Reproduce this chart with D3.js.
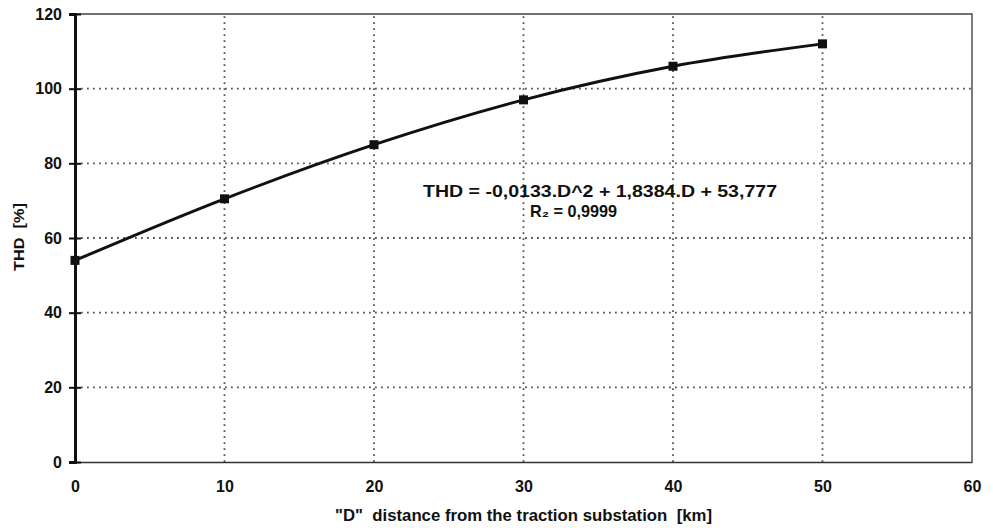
<!DOCTYPE html>
<html>
<head>
<meta charset="utf-8">
<script src="https://cdn.jsdelivr.net/npm/d3@7/dist/d3.min.js"></script>
<style>
  body { margin: 0; background: #fff; }
  svg text { font-family: "Liberation Sans", Arial, sans-serif; font-weight: bold; fill: #111; }
</style>
</head>
<body>
<div id="chart"></div>
<script>
// Data
const distance = [0, 10, 20, 30, 40, 50];
const thd = [54, 70.5, 85, 97, 106, 112];
const xTicks = [0, 10, 20, 30, 40, 50, 60];
const yTicks = [0, 20, 40, 60, 80, 100, 120];
const equationLines = ["THD = -0,0133.D^2 + 1,8384.D + 53,777", "R\u2082 = 0,9999"];

const width = 993, height = 528;
const margin = {top: 14, right: 21, bottom: 66, left: 75};

const svg = d3.select("#chart")
    .append("svg")
    .attr("width", width)
    .attr("height", height);

const x = d3.scaleLinear().domain([0, 60]).range([margin.left, width - margin.right]);
const y = d3.scaleLinear().domain([0, 120]).range([height - margin.bottom, margin.top]);

// Grid lines (dotted)
svg.append("g")
    .selectAll("line")
    .data(xTicks.slice(1, -1))
    .enter()
    .append("line")
    .attr("x1", d => x(d)).attr("x2", d => x(d))
    .attr("y1", y(0)).attr("y2", y(120))
    .attr("stroke", "#555")
    .attr("stroke-width", 1.8)
    .attr("stroke-dasharray", "1.8,4.2");

svg.append("g")
    .selectAll("line")
    .data(yTicks.slice(1, -1))
    .enter()
    .append("line")
    .attr("x1", x(0)).attr("x2", x(60))
    .attr("y1", d => y(d)).attr("y2", d => y(d))
    .attr("stroke", "#555")
    .attr("stroke-width", 1.8)
    .attr("stroke-dasharray", "1.8,4.2");

// Plot frame: top and right
svg.append("path")
    .attr("d", `M${x(0)},${y(120)}H${x(60)}V${y(0)}`)
    .attr("fill", "none")
    .attr("stroke", "#444")
    .attr("stroke-width", 1.4);

// X axis
const xAxis = svg.append("g")
    .attr("transform", `translate(0,${y(0)})`)
    .call(d3.axisBottom(x).tickValues(xTicks).tickSize(0).tickPadding(19));
xAxis.select(".domain").attr("stroke", "#333").attr("stroke-width", 1.6);
xAxis.selectAll("text").style("font-size", "16px");

// Y axis
const yAxis = svg.append("g")
    .attr("transform", `translate(${x(0)},0)`)
    .call(d3.axisLeft(y).tickValues(yTicks).tickSize(6).tickPadding(7));
yAxis.select(".domain").attr("stroke", "#111").attr("stroke-width", 3);
yAxis.selectAll(".tick line").attr("x2", -6).attr("x1", 6).attr("stroke", "#111").attr("stroke-width", 2);
yAxis.selectAll("text").style("font-size", "16px");

// Data line
const points = distance.map((d, i) => ({d: d, v: thd[i]}));
svg.append("path")
    .datum(points)
    .attr("fill", "none")
    .attr("stroke", "#111")
    .attr("stroke-width", 3)
    .attr("d", d3.line().x(p => x(p.d)).y(p => y(p.v)).curve(d3.curveMonotoneX));

// Square markers
svg.append("g")
    .selectAll("rect")
    .data(points)
    .enter()
    .append("rect")
    .attr("x", p => x(p.d) - 4.5)
    .attr("y", p => y(p.v) - 4.5)
    .attr("width", 9)
    .attr("height", 9)
    .attr("fill", "#111");

// Trendline equation
svg.append("text")
    .attr("x", 423)
    .attr("y", 197)
    .attr("textLength", 354)
    .attr("lengthAdjust", "spacingAndGlyphs")
    .style("font-size", "16px")
    .text(equationLines[0]);
svg.append("text")
    .attr("x", 530)
    .attr("y", 217)
    .attr("textLength", 87)
    .attr("lengthAdjust", "spacingAndGlyphs")
    .style("font-size", "17px")
    .text(equationLines[1]);

// Axis titles
svg.append("text")
    .attr("x", 335)
    .attr("y", 521)
    .attr("textLength", 377)
    .attr("lengthAdjust", "spacingAndGlyphs")
    .style("font-size", "16px")
    .style("white-space", "pre")
    .text('"D"  distance from the traction substation  [km]');

svg.append("text")
    .attr("text-anchor", "middle")
    .attr("transform", `translate(24,237) rotate(-90)`)
    .attr("textLength", 68)
    .attr("lengthAdjust", "spacingAndGlyphs")
    .style("font-size", "15px")
    .style("white-space", "pre")
    .text("THD  [%]");
</script>
</body>
</html>
